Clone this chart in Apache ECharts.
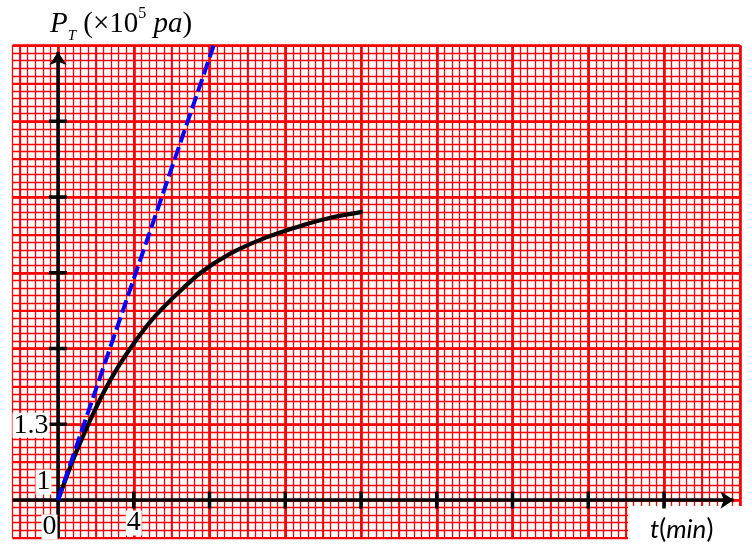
<!DOCTYPE html>
<html><head><meta charset="utf-8">
<script src="https://cdn.jsdelivr.net/npm/echarts@6/dist/echarts.min.js"></script>
<style>html,body{margin:0;padding:0;background:#fff}#c{width:752px;height:551px}</style>
</head><body><div id="c"></div>
<script>
// ---- data ----
const tCurve = [0, 0.8, 1.6, 2.4, 3.2, 4, 5, 6, 7.5, 9, 11, 13, 14.5, 16];
const pCurve = [1.0, 1.16, 1.30, 1.425, 1.53, 1.62, 1.717, 1.795, 1.898, 1.972, 2.04, 2.09, 2.12, 2.14];
const tTangent = [0, 8.22];
const pTangent = [1.0, 2.8];
const xTickValues = [4, 8, 12, 16, 20, 24, 28, 32];
const yTickValues = [1.3, 1.6, 1.9, 2.2, 2.5];
const xTickLabels = ['0', '4'];
const xTickLabelValues = [0, 4];
const yTickLabels = ['1', '1.3'];
const yTickLabelValues = [1, 1.3];

// ---- axis geometry ----
const T_MIN = -2.4, T_MAX = 36, P_MIN = 0.85, P_MAX = 2.8;
const T_MINOR = 0.4, P_MINOR = 0.03, P0 = 1;
const T_ARROW = 35.67, P_ARROW = 2.774;

const xCats = [], yCats = [];
for (let i = Math.round(T_MIN / T_MINOR); i <= Math.round(T_MAX / T_MINOR); i++) xCats.push(String(i));
for (let i = Math.round((P_MIN - P0) / P_MINOR); i <= Math.round((P_MAX - P0) / P_MINOR); i++) yCats.push(String(i));

function paperAxis(cats, every, width) {
  return {
    type: 'category', data: cats, boundaryGap: false, gridIndex: 0,
    axisLine: {show: false}, axisTick: {show: false}, axisLabel: {show: false},
    splitLine: {
      show: true,
      interval: function (idx, val) { return Number(val) % every === 0; },
      lineStyle: {color: '#ff0000', width: width, opacity: 1}
    }
  };
}

const curveData = tCurve.map((t, i) => [t, pCurve[i]]);
const tangentData = tTangent.map((t, i) => [t, pTangent[i]]);
const serifFont = '"Liberation Serif", "Times New Roman", serif';
const sansFont = 'Lato, "Open Sans", sans-serif';

const labelItems = [
  {value: [xTickLabelValues[0], P0], text: xTickLabels[0], offset: [-8.5, 27]},
  {value: [xTickLabelValues[1], P0], text: xTickLabels[1], offset: [0, 23]},
  {value: [0, yTickLabelValues[0]], text: yTickLabels[0], offset: [-14.5, -18]},
  {value: [0, yTickLabelValues[1]], text: yTickLabels[1], offset: [-27, 1]}
].map(d => ({
  value: d.value,
  itemStyle: {opacity: 1},
  label: {
    show: true, position: 'inside', formatter: d.text, offset: d.offset,
    fontFamily: serifFont, fontSize: 28, fontWeight: 'normal', color: '#000', opacity: 1,
    backgroundColor: '#fff', padding: [1, 1, 0, 1], lineHeight: 24
  }
}));

const chart = echarts.init(document.getElementById('c'), null, {renderer: 'canvas'});
chart.setOption({
  animation: false,
  backgroundColor: '#fff',
  title: [{
    text: '{i|P}{sub|T}{n| (×10}{sup|5}{i| pa}{n|)}',
    left: 50, top: 5.5, padding: 0,
    textStyle: {
      fontWeight: 'normal',
      rich: {
        i: {fontFamily: serifFont, fontStyle: 'italic', fontWeight: 'normal', fontSize: 29, lineHeight: 38, color: '#000'},
        n: {fontFamily: serifFont, fontWeight: 'normal', fontSize: 29, lineHeight: 38, color: '#000'},
        sub: {fontFamily: serifFont, fontStyle: 'italic', fontWeight: 'normal', fontSize: 15, lineHeight: 14, verticalAlign: 'bottom', color: '#000'},
        sup: {fontFamily: serifFont, fontWeight: 'normal', fontSize: 16, lineHeight: 20, verticalAlign: 'top', color: '#000'}
      }
    }
  }, {
    text: '{i|t}{n|(}{i|min}{n|)}',
    left: 650, top: 517, padding: 0,
    textStyle: {
      fontWeight: 'normal',
      rich: {
        i: {fontFamily: sansFont, fontStyle: 'italic', fontWeight: 'normal', fontSize: 26, color: '#000'},
        n: {fontFamily: sansFont, fontWeight: 'normal', fontSize: 26, color: '#000'}
      }
    }
  }],
  graphic: [{
    type: 'rect', z: 3, silent: true,
    shape: {x: 628, y: 506, width: 124, height: 45},
    style: {fill: '#fff'}
  }],
  grid: [{left: 12.55, right: 12.25, top: 45.5, bottom: 13.1, containLabel: false, outerBoundsMode: 'none', show: false}],
  xAxis: [
    {type: 'value', min: T_MIN, max: T_MAX, show: false, gridIndex: 0},
    paperAxis(xCats, 1, 1.3),
    paperAxis(xCats, 5, 1.8),
    paperAxis(xCats, 10, 2.6)
  ],
  yAxis: [
    {type: 'value', min: P_MIN, max: P_MAX, show: false, gridIndex: 0},
    paperAxis(yCats, 1, 1.3),
    paperAxis(yCats, 5, 1.8),
    paperAxis(yCats, 10, 2.6)
  ],
  series: [
    {
      type: 'line', name: 'curve', xAxisIndex: 0, yAxisIndex: 0, z: 5,
      data: curveData, smooth: 0.35, symbol: 'none', silent: true,
      lineStyle: {color: '#000', width: 4.2, cap: 'round'}
    },
    {
      type: 'line', name: 'tangent', xAxisIndex: 0, yAxisIndex: 0, z: 6,
      data: tangentData, symbol: 'none', silent: true,
      lineStyle: {color: '#0000ff', width: 4, type: [13, 5]}
    },
    {
      type: 'scatter', name: 'axes', xAxisIndex: 0, yAxisIndex: 0, z: 4,
      data: [], silent: true, clip: false,
      markLine: {
        silent: true, animation: false, precision: 4,
        symbol: ['none', 'arrow'], symbolSize: 13,
        label: {show: false},
        lineStyle: {color: '#000', width: 3.5, type: 'solid', opacity: 1},
        itemStyle: {color: '#000', opacity: 1},
        emphasis: {disabled: true},
        data: [
          [{coord: [T_MIN, P0]}, {coord: [T_ARROW, P0]}],
          [{coord: [0, P_MIN]}, {coord: [0, P_ARROW]}]
        ]
      }
    },
    {
      type: 'scatter', name: 'xticks', xAxisIndex: 0, yAxisIndex: 0, z: 4, silent: true,
      data: xTickValues.map(t => [t, P0]), symbol: 'rect', symbolSize: [3.5, 17],
      itemStyle: {color: '#000', opacity: 1}
    },
    {
      type: 'scatter', name: 'yticks', xAxisIndex: 0, yAxisIndex: 0, z: 4, silent: true,
      data: yTickValues.map(p => [0, p]), symbol: 'rect', symbolSize: [18, 3.5],
      itemStyle: {color: '#000', opacity: 1}
    },
    {
      type: 'scatter', name: 'labels', xAxisIndex: 0, yAxisIndex: 0, z: 7, silent: true,
      data: labelItems, symbolSize: 0, clip: false, itemStyle: {opacity: 1}
    }
  ]
});
</script></body></html>
